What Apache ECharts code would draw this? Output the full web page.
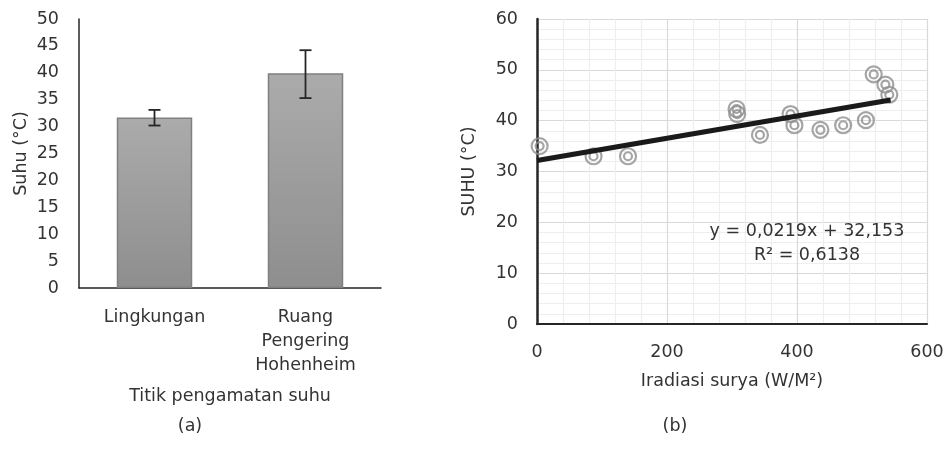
<!DOCTYPE html>
<html>
<head>
<meta charset="utf-8">
<script src="https://cdn.jsdelivr.net/npm/echarts@6/dist/echarts.min.js"></script>
<style>html,body{margin:0;padding:0;background:#fff}#c{width:947px;height:462px}</style>
</head>
<body>
<div id="c"></div>
<script>
// ---- Data (a): bar chart ----
const barCategories = ['Lingkungan', 'Ruang\nPengering\nHohenheim'];
const barValues = [31.7, 39.9];
const barErrLow = [30.2, 35.3];
const barErrHigh = [33.1, 44.2];

// ---- Data (b): scatter ----
const irradiance = [4, 87, 140, 307, 308, 343, 390, 396, 436, 471, 506, 518, 536, 542];
const temperature = [35, 33, 33, 42.3, 41.3, 37.2, 41.3, 39.1, 38.2, 39.1, 40.1, 49.1, 47.1, 45.1];
const trendSlope = 0.0219;
const trendIntercept = 32.153;
const trendXRange = [0, 544];

const FONT = 'DejaVu Sans';
const TXT = '#333333';
const FS = 17.5;

const scatterData = irradiance.map((x, i) => [x, temperature[i]]);
const trendData = trendXRange.map(x => [x, trendSlope * x + trendIntercept]);
const errData = barCategories.map((c, i) => [i, barErrLow[i], barErrHigh[i]]);

const txtStyle = (t) => ({text: t, fontFamily: FONT, fontSize: FS, fill: TXT, align: 'center', verticalAlign: 'middle', lineWidth: 0, stroke: 'none'});

const chart = echarts.init(document.getElementById('c'), null, {renderer: 'canvas'});
chart.setOption({
  backgroundColor: '#fff',
  animation: false,
  textStyle: {fontFamily: FONT, color: TXT},
  grid: [
    {left: 79, right: 566, top: 19, bottom: 174},
    {left: 537, right: 20, top: 19, bottom: 138}
  ],
  xAxis: [
    {
      gridIndex: 0, type: 'category', data: barCategories,
      axisLine: {lineStyle: {color: '#262626', width: 1.5}},
      axisTick: {show: false},
      axisLabel: {fontFamily: FONT, fontSize: FS, color: TXT, margin: 17, lineHeight: 24, interval: 0},
      name: 'Titik pengamatan suhu', nameLocation: 'middle', nameGap: 99,
      nameTextStyle: {fontFamily: FONT, fontSize: FS, color: TXT}
    },
    {
      gridIndex: 1, type: 'value', min: 0, max: 600, interval: 200,
      axisLine: {lineStyle: {color: '#262626', width: 2}},
      axisTick: {show: false},
      minorTick: {show: false, splitNumber: 5},
      splitLine: {show: true, lineStyle: {color: '#d9d9d9', width: 1.2}},
      minorSplitLine: {show: true, lineStyle: {color: '#eeeeee', width: 1.2}},
      axisLabel: {fontFamily: FONT, fontSize: FS, color: TXT, margin: 19},
      name: 'Iradiasi surya (W/M²)', nameLocation: 'middle', nameGap: 48,
      nameTextStyle: {fontFamily: FONT, fontSize: FS, color: TXT}
    }
  ],
  yAxis: [
    {
      gridIndex: 0, type: 'value', min: 0, max: 50, interval: 5,
      axisLine: {show: true, lineStyle: {color: '#262626', width: 1.5}},
      axisTick: {show: false},
      splitLine: {show: false},
      axisLabel: {fontFamily: FONT, fontSize: FS, color: TXT, margin: 20},
      name: 'Suhu (°C)', nameLocation: 'middle', nameGap: 49,
      nameTextStyle: {fontFamily: FONT, fontSize: FS, color: TXT}
    },
    {
      gridIndex: 1, type: 'value', min: 0, max: 60, interval: 10,
      axisLine: {show: true, lineStyle: {color: '#262626', width: 2.5}},
      axisTick: {show: false},
      minorTick: {show: false, splitNumber: 5},
      splitLine: {show: true, lineStyle: {color: '#d9d9d9', width: 1.2}},
      minorSplitLine: {show: true, lineStyle: {color: '#eeeeee', width: 1.2}},
      axisLabel: {fontFamily: FONT, fontSize: FS, color: TXT, margin: 19},
      name: 'SUHU (°C)', nameLocation: 'middle', nameGap: 59,
      nameTextStyle: {fontFamily: FONT, fontSize: FS, color: TXT}
    }
  ],
  series: [
    {
      type: 'bar', xAxisIndex: 0, yAxisIndex: 0, data: barValues, barWidth: '50%',
      itemStyle: {
        color: new echarts.graphic.LinearGradient(0, 0, 0, 1, [
          {offset: 0, color: '#ababab'}, {offset: 1, color: '#8e8e8e'}
        ]),
        borderColor: '#808080', borderWidth: 1.5
      }
    },
    {
      type: 'custom', xAxisIndex: 0, yAxisIndex: 0, data: errData, z: 5,
      renderItem: function (params, api) {
        const x = api.value(0);
        const lo = api.coord([x, api.value(1)]);
        const hi = api.coord([x, api.value(2)]);
        const hw = 6;
        const st = {stroke: '#262626', lineWidth: 1.8};
        return {type: 'group', children: [
          {type: 'line', shape: {x1: lo[0], y1: lo[1], x2: hi[0], y2: hi[1]}, style: st},
          {type: 'line', shape: {x1: lo[0] - hw, y1: lo[1], x2: lo[0] + hw, y2: lo[1]}, style: st},
          {type: 'line', shape: {x1: hi[0] - hw, y1: hi[1], x2: hi[0] + hw, y2: hi[1]}, style: st}
        ]};
      }
    },
    {
      type: 'scatter', xAxisIndex: 1, yAxisIndex: 1, data: scatterData,
      symbol: 'circle', symbolSize: 16,
      itemStyle: {color: 'rgba(0,0,0,0)', borderColor: '#8f8f8f', borderWidth: 2.2}, z: 3
    },
    {
      type: 'scatter', xAxisIndex: 1, yAxisIndex: 1, data: scatterData,
      symbol: 'circle', symbolSize: 8,
      itemStyle: {color: 'rgba(0,0,0,0)', borderColor: '#8f8f8f', borderWidth: 2.2}, z: 3
    },
    {
      type: 'line', xAxisIndex: 1, yAxisIndex: 1, data: trendData,
      showSymbol: false, symbol: 'none',
      lineStyle: {color: '#1a1a1a', width: 5}, z: 4
    }
  ],
  graphic: [
    {type: 'text', x: 807, y: 231, z: 100, style: txtStyle('y = 0,0219x + 32,153')},
    {type: 'text', x: 807, y: 255, z: 100, style: txtStyle('R² = 0,6138')},
    {type: 'text', x: 190, y: 426, z: 100, style: txtStyle('(a)')},
    {type: 'text', x: 675, y: 426, z: 100, style: txtStyle('(b)')}
  ]
});
</script>
</body>
</html>
